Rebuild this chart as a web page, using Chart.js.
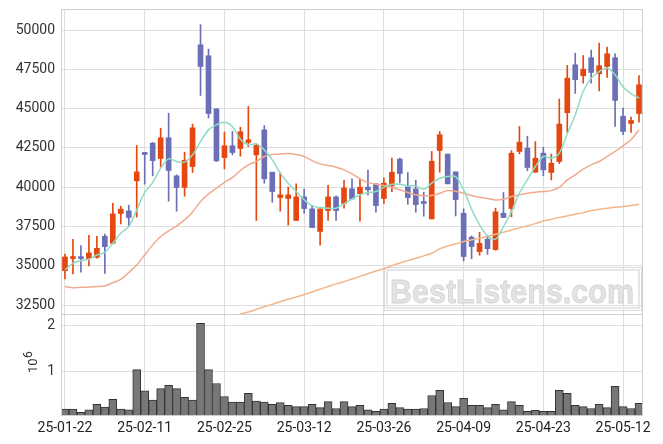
<!DOCTYPE html>
<html>
<head>
<meta charset="utf-8">
<script src="https://cdn.jsdelivr.net/npm/chart.js@4.4.0/dist/chart.umd.min.js"></script>
<style>
    html, body { margin: 0; padding: 0; background: #fff; }
</style>
</head>
<body>
<canvas id="stock-chart" width="663" height="444"></canvas>
<script>
(function () {
    "use strict";

    // Fechas de sesión
    const dates = [
        "25-01-22", "25-01-23", "25-01-24", "25-01-31", "25-02-03", "25-02-04", "25-02-05", "25-02-06", "25-02-07", "25-02-10",
        "25-02-11", "25-02-12", "25-02-13", "25-02-14", "25-02-17", "25-02-18", "25-02-19", "25-02-20", "25-02-21", "25-02-24",
        "25-02-25", "25-02-26", "25-02-27", "25-02-28", "25-03-04", "25-03-05", "25-03-06", "25-03-07", "25-03-10", "25-03-11",
        "25-03-12", "25-03-13", "25-03-14", "25-03-17", "25-03-18", "25-03-19", "25-03-20", "25-03-21", "25-03-24", "25-03-25",
        "25-03-26", "25-03-27", "25-03-28", "25-03-31", "25-04-01", "25-04-02", "25-04-03", "25-04-04", "25-04-07", "25-04-08",
        "25-04-09", "25-04-10", "25-04-11", "25-04-14", "25-04-15", "25-04-16", "25-04-17", "25-04-18", "25-04-21", "25-04-22",
        "25-04-23", "25-04-24", "25-04-25", "25-04-28", "25-04-29", "25-04-30", "25-05-02", "25-05-07", "25-05-08", "25-05-09",
        "25-05-12", "25-05-13", "25-05-14"
    ];

    const openPrices = [
        34700, 35470, 35510, 35470, 35550, 36890, 36440, 38330, 38500, 40410,
        42150, 42810, 41830, 43150, 40730, 39990, 41320, 49060, 48360, 44990,
        41890, 42640, 42470, 42850, 42060, 43650, 40960, 39350, 39290, 37890,
        39390, 38630, 37190, 38520, 39390, 38970, 39900, 39600, 40010, 40220,
        39290, 40110, 41790, 40030, 39900, 39090, 37990, 42340, 42110, 40980,
        38350, 36830, 35910, 36700, 36040, 38350, 38650, 42280, 42490, 40960,
        42170, 40940, 41640, 44740, 47790, 47090, 48240, 47220, 47680, 48240,
        44520, 44060, 44690
    ];
    const highPrices = [
        35750, 36700, 36290, 36950, 36890, 37020, 38990, 38800, 38860, 42660,
        42210, 42850, 43760, 44710, 40790, 42230, 44020, 50340, 48790, 44990,
        43510, 43550, 43820, 45140, 42760, 43930, 40960, 40940, 40010, 40220,
        39880, 38840, 38630, 40130, 39460, 40450, 40540, 40540, 41090, 40220,
        40600, 41850, 41850, 40940, 40450, 39690, 42280, 43550, 42110, 40980,
        38630, 36910, 37140, 36910, 38670, 39670, 42340, 43870, 43250, 42910,
        42550, 42110, 45610, 47750, 48530, 48380, 48720, 49170, 48910, 48490,
        45030, 44460, 47110
    ];
    const lowPrices = [
        34170, 34490, 34600, 35000, 35490, 34530, 36400, 37670, 37550, 38100,
        40200, 40730, 41280, 39120, 38480, 39430, 40940, 45840, 44400, 41640,
        41170, 42060, 41980, 42590, 37890, 40260, 39050, 38480, 37590, 37890,
        38350, 37440, 36320, 37890, 37890, 38670, 39260, 37840, 39520, 38420,
        38970, 39730, 40300, 38920, 38420, 38160, 37990, 40960, 40220, 38180,
        35320, 35450, 35680, 35740, 36000, 38080, 38120, 42130, 41050, 40960,
        40730, 40470, 41510, 43490, 45970, 46620, 46620, 46120, 46980, 43870,
        43340, 43490, 44140
    ];
    const closePrices = [
        35570, 35570, 35470, 35830, 36120, 36230, 38310, 38610, 38080, 40980,
        42090, 41700, 43150, 41070, 39990, 41720, 43780, 47680, 44690, 41680,
        42640, 42210, 43530, 43020, 42660, 40540, 39730, 39520, 39520, 39390,
        38650, 37440, 38630, 39390, 38520, 39960, 39260, 40010, 39840, 38840,
        40260, 40960, 40880, 39350, 38900, 38970, 41660, 43340, 40220, 39220,
        35600, 36230, 36440, 36100, 38440, 38080, 42170, 42870, 41260, 41850,
        41110, 41530, 44020, 46940, 46840, 47510, 47300, 47730, 48490, 45520,
        43550, 44250, 46520
    ];

    // Medias móviles
    const maShort = [
        34750, 35170, 35340, 35430, 35700, 35870, 36440, 37080, 37500, 38560,
        39670, 40300, 41220, 41810, 41640, 41600, 42060, 42910, 43650, 43970,
        44140, 43870, 43060, 42700, 42760, 42380, 41750, 40900, 40260, 39730,
        39200, 38820, 38710, 38670, 38670, 38950, 39250, 39520, 39670, 39730,
        40010, 40200, 40200, 40090, 40090, 39880, 40260, 40580, 40680, 40680,
        39840, 38610, 37610, 36910, 36700, 37500, 38460, 39630, 40470, 41320,
        41960, 41850, 42170, 43400, 44600, 46090, 46940, 47360, 47580, 47150,
        46370, 45950, 45670
    ];
    const maMid = [
        33690, 33620, 33640, 33660, 33690, 33730, 33940, 34150, 34580, 35060,
        35700, 36340, 36870, 37230, 37550, 37930, 38420, 39090, 39580, 39940,
        40320, 40620, 41070, 41430, 41640, 41960, 42090, 42110, 42150, 42090,
        41960, 41700, 41490, 41390, 41280, 41110, 40850, 40540, 40300, 40200,
        40110, 39990, 39840, 39670, 39520, 39460, 39480, 39620, 39790, 39750,
        39620, 39480, 39370, 39290, 39200, 39240, 39410, 39520, 39620, 39690,
        39730, 39790, 39990, 40470, 40790, 41150, 41430, 41640, 41960, 42280,
        42640, 43020, 43650
    ];
    const maLong = [
        null, null, null, null, null, null, null, null, null, null,
        null, null, null, null, null, null, null, null, null, null,
        null, null, 31950, 32070, 32240, 32410, 32560, 32730, 32880, 33030,
        33180, 33350, 33520, 33690, 33860, 34000, 34170, 34340, 34510, 34680,
        34830, 35020, 35190, 35340, 35490, 35640, 35810, 36090, 36270, 36400,
        36550, 36660, 36760, 36870, 37020, 37140, 37290, 37420, 37550, 37690,
        37860, 37970, 38080, 38180, 38290, 38390, 38520, 38610, 38670, 38730,
        38780, 38840, 38920
    ];

    // Volumen en millones
    const volumes = [
        0.19, 0.19, 0.12, 0.17, 0.29, 0.23, 0.40, 0.19, 0.17, 1.04,
        0.58, 0.38, 0.63, 0.70, 0.63, 0.44, 0.38, 2.04, 1.04, 0.74,
        0.46, 0.34, 0.34, 0.53, 0.36, 0.34, 0.29, 0.33, 0.27, 0.24,
        0.24, 0.29, 0.22, 0.35, 0.20, 0.35, 0.24, 0.27, 0.17, 0.14,
        0.19, 0.31, 0.22, 0.19, 0.19, 0.20, 0.48, 0.59, 0.33, 0.24,
        0.42, 0.27, 0.27, 0.22, 0.29, 0.17, 0.35, 0.27, 0.14, 0.16,
        0.14, 0.14, 0.59, 0.53, 0.27, 0.24, 0.20, 0.29, 0.22, 0.68,
        0.24, 0.20, 0.31
    ];

    const priceTicks = [32500, 35000, 37500, 40000, 42500, 45000, 47500, 50000];
    const volumeTicks = [1, 2];

    const upColor = "#e5480f";
    const downColor = "#6b6fb6";
    const candleColors = closePrices.map((c, i) => (c >= openPrices[i] ? upColor : downColor));

    Chart.defaults.font.family = "Roboto";
    Chart.defaults.font.size = 14;
    Chart.defaults.color = "#333";

    // Marca de agua
    const watermark = {
        id: "watermark",
        beforeDatasetsDraw(chart) {
            const c = chart.ctx;
            const area = chart.chartArea;
            const y = chart.scales.y;
            const w = 257, h = 43;
            const x0 = area.right - 2 - w;
            const y0 = y.bottom - 4 - h;
            c.save();
            c.strokeStyle = "#dadada";
            c.lineWidth = 1;
            c.strokeRect(x0 + 0.5, y0 + 0.5, w, h);
            c.strokeStyle = "#e6e6e6";
            c.lineWidth = 2;
            c.strokeRect(x0 + 3, y0 + 3, w - 5, h - 5);
            c.font = "bold 34px 'Liberation Sans'";
            c.textBaseline = "alphabetic";
            const text = "BestListens.com";
            const tw = c.measureText(text).width;
            const sx = 244 / tw;
            c.translate(x0 + 6, y0 + 36);
            c.scale(sx, 1);
            c.fillStyle = "#e3e3e3";
            c.fillText(text, 0, 0);
            c.strokeStyle = "#d2d2d2";
            c.lineWidth = 0.8;
            c.strokeText(text, 0, 0);
            c.restore();
        }
    };

    // Marco del área, separador de paneles y etiqueta 10^6
    const frame = {
        id: "frame",
        afterDraw(chart) {
            const c = chart.ctx;
            const a = chart.chartArea;
            const y = chart.scales.y;
            const y2 = chart.scales.y2;
            c.save();
            c.strokeStyle = "#cfcfcf";
            c.lineWidth = 1;
            c.strokeRect(a.left + 0.5, a.top + 0.5, a.right - a.left - 1, a.bottom - a.top);
            c.beginPath();
            c.moveTo(a.left, Math.round(y.bottom) + 0.5);
            c.lineTo(a.right, Math.round(y.bottom) + 0.5);
            c.stroke();

            c.fillStyle = "#333";
            c.translate(34, y2.top + 59);
            c.rotate(-Math.PI / 2);
            c.textAlign = "left";
            c.textBaseline = "middle";
            c.font = "13px Roboto";
            c.fillText("10", 0, 0);
            const w = c.measureText("10").width;
            c.font = "12px Roboto";
            c.fillText("6", w + 0.5, -5);
            c.restore();
        }
    };

    const plain = (v) => String(v);

    const ctx = document.getElementById("stock-chart").getContext("2d");
    new Chart(ctx, {
        type: "bar",
        data: {
            labels: dates,
            datasets: [
                {
                    type: "line",
                    data: maShort,
                    yAxisID: "y",
                    borderColor: "#8fdcc2",
                    borderWidth: 1.5,
                    pointRadius: 0,
                    tension: 0.3,
                    order: 0,
                },
                {
                    type: "line",
                    data: maMid,
                    yAxisID: "y",
                    borderColor: "#f0aa8e",
                    borderWidth: 1.5,
                    pointRadius: 0,
                    tension: 0.3,
                    order: 0,
                },
                {
                    type: "line",
                    data: maLong,
                    yAxisID: "y",
                    borderColor: "#f2b68a",
                    borderWidth: 1.5,
                    pointRadius: 0,
                    tension: 0.3,
                    order: 0,
                },
                {
                    data: openPrices.map((o, i) => [o, closePrices[i]]),
                    yAxisID: "y",
                    backgroundColor: candleColors,
                    barThickness: 5,
                    minBarLength: 2,
                    grouped: false,
                    order: 1,
                },
                {
                    data: lowPrices.map((l, i) => [l, highPrices[i]]),
                    yAxisID: "y",
                    backgroundColor: candleColors,
                    barThickness: 1,
                    grouped: false,
                    order: 2,
                },
                {
                    data: volumes,
                    yAxisID: "y2",
                    backgroundColor: "#777777",
                    borderColor: "#333333",
                    borderWidth: 1,
                    barPercentage: 1,
                    categoryPercentage: 1,
                    grouped: false,
                    order: 3,
                },
            ],
        },
        options: {
            responsive: false,
            animation: false,
            maintainAspectRatio: false,
            layout: { padding: { top: 9, right: 20, left: 0, bottom: 0 } },
            plugins: {
                legend: { display: false },
                tooltip: { enabled: false },
            },
            scales: {
                x: {
                    type: "category",
                    offset: true,
                    grid: { offset: false, color: "#dddddd", drawTicks: false },
                    border: { display: false },
                    ticks: {
                        autoSkip: false,
                        maxRotation: 0,
                        padding: 5,
                        color: "#222",
                        callback: function (value, index) {
                            return index % 10 === 0 ? this.getLabelForValue(value) : null;
                        },
                    },
                    afterFit: (scale) => { scale.height = 29; },
                },
                y: {
                    type: "linear",
                    position: "left",
                    stack: "panels",
                    stackWeight: 305,
                    weight: 1,
                    min: 31946,
                    max: 51335,
                    grid: { color: "#dddddd", drawTicks: false },
                    border: { display: false },
                    ticks: { padding: 6, color: "#333", callback: plain },
                    afterBuildTicks: (scale) => { scale.ticks = priceTicks.map((v) => ({ value: v })); },
                    afterFit: (scale) => { scale.width = 61; scale.paddingTop = 0; scale.paddingBottom = 0; },
                },
                y2: {
                    type: "linear",
                    position: "left",
                    stack: "panels",
                    stackWeight: 101,
                    weight: 0,
                    min: 0.06,
                    max: 2.24,
                    grid: { color: "#dddddd", drawTicks: false },
                    border: { display: false },
                    ticks: { padding: 6, color: "#333", callback: plain },
                    afterBuildTicks: (scale) => { scale.ticks = volumeTicks.map((v) => ({ value: v })); },
                    afterFit: (scale) => { scale.width = 61; scale.paddingTop = 0; scale.paddingBottom = 0; },
                },
            },
        },
        plugins: [watermark, frame],
    });
})();
</script>
</body>
</html>
